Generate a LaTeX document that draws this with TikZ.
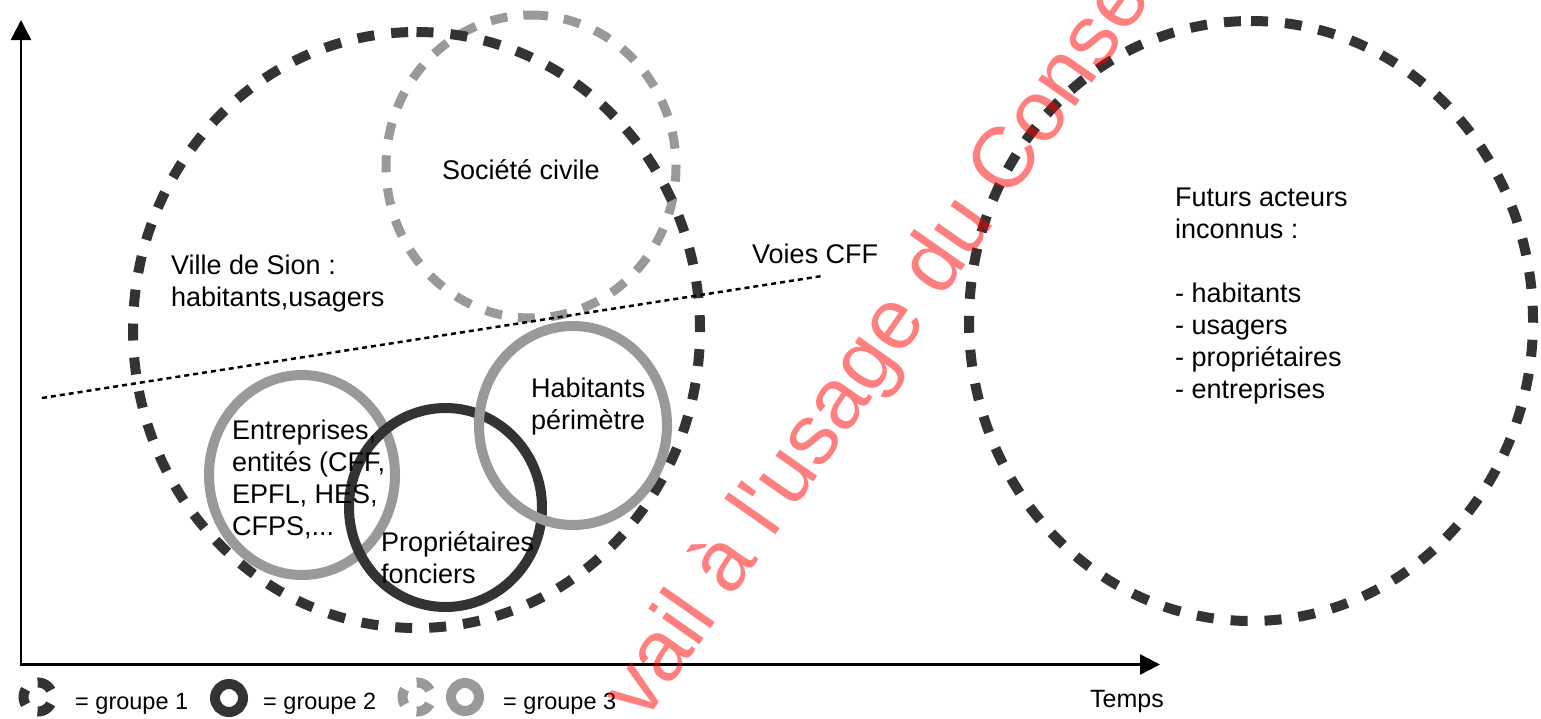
\documentclass[tikz,border=0pt]{standalone}
\usepackage{fontspec}
\setmainfont{Liberation Sans}
\newfontfamily\wmfont{Liberation Sans}
\usetikzlibrary{arrows.meta}
\definecolor{dk}{HTML}{333333}
\definecolor{gr}{HTML}{999999}
\begin{document}
\begin{tikzpicture}[x=1pt,y=-1pt,
  bigdash/.style={draw=dk,line width=10pt,dash pattern=on 17pt off 17pt},
  graydash/.style={draw=gr,line width=9pt,dash pattern=on 17pt off 16pt},
  grayring/.style={draw=gr,line width=10pt},
  darkring/.style={draw=dk,line width=10pt},
  lbl/.style={inner sep=0pt,anchor=base west,align=left,font=\fontsize{27}{32}\selectfont},
  leg/.style={inner sep=0pt,anchor=base west,font=\fontsize{23.5}{28}\selectfont},
  axisline/.style={line width=2.5pt,line join=miter,{Triangle[width=20pt,length=20pt]}-{Triangle[width=20pt,length=20pt]}},
  railway/.style={line width=2.5pt,dash pattern=on 5pt off 4pt},
  legdash/.style={line width=10pt,dash pattern=on 16pt off 14.37pt,dash phase=23.2pt},
  watermark/.style={inner sep=0pt,anchor=base west,rotate=55,text=red,text opacity=0.5,font=\wmfont\fontsize{86}{90}\selectfont},
  ]
\useasboundingbox (0,0) rectangle (1541,718);

% axes
\coordinate (ytop) at (21,20);
\coordinate (O) at (21,664.5);
\coordinate (xend) at (1160,664.5);
\draw[axisline] (ytop) -- (O) -- (xend);

% circles
\coordinate (cSoc) at (531,166.5);
\coordinate (cVille) at (416.5,330);
\coordinate (cFut) at (1251,321);
\draw[graydash] (531,15) arc[start angle=-90,end angle=270,x radius=145,y radius=151.5];
\draw[bigdash] (416.5,32) arc[start angle=-90,end angle=270,x radius=283.5,y radius=298];
\draw[bigdash] (1251,21) arc[start angle=-90,end angle=270,x radius=282,y radius=300];

% railway
\coordinate (r1) at (42,398);
\coordinate (r2) at (822,276);
\draw[railway] (r1) -- (r2);

% solid rings
\coordinate (cEnt) at (302,475);
\coordinate (cPro) at (445.5,507.5);
\coordinate (cHab) at (573,425.5);
\draw[grayring] (cEnt) ellipse[x radius=93,y radius=100];
\draw[darkring] (cPro) ellipse[x radius=96.5,y radius=99.5];
\draw[grayring] (cHab) ellipse[x radius=94,y radius=99.5];

% labels
\node[lbl] (soc) at (442,179) {Société civile};
\node[lbl] (ville) at (171,306) {Ville de Sion :\\habitants,usagers};
\node[lbl] (voies) at (752,263) {Voies CFF};
\node[lbl] (ent) at (232,535) {Entreprises,\\entités (CFF,\\EPFL, HES,\\CFPS,...};
\node[lbl] (pro) at (381,583) {Propriétaires\\fonciers};
\node[lbl] (hab) at (531,429) {Habitants\\périmètre};
\node[lbl] (fut) at (1175,398) {Futurs acteurs\\inconnus :\\[32pt]- habitants\\- usagers\\- propriétaires\\- entreprises};
\node[lbl,font=\fontsize{25}{30}\selectfont] (temps) at (1090,707) {Temps};

% legend
\coordinate (g1) at (38,697);
\coordinate (g2) at (229,698);
\coordinate (g3) at (417,697);
\coordinate (g4) at (465,697);
\draw[legdash,draw=dk] (g1) circle[radius=14.5];
\draw[darkring] (g2) circle[radius=14];
\draw[legdash,draw=gr] (g3) circle[radius=14.5];
\draw[grayring] (g4) circle[radius=14];
\node[leg] (l1) at (75,709) {= groupe 1};
\node[leg] (l2) at (263,709) {= groupe 2};
\node[leg] (l3) at (503,709) {= groupe 3};

% watermark
\begin{scope}
\clip (0,0) rectangle (1541,718);
\node[watermark] (wm) at (644,724) {vail à l'usage du Conse};
\end{scope}
\end{tikzpicture}
\end{document}
